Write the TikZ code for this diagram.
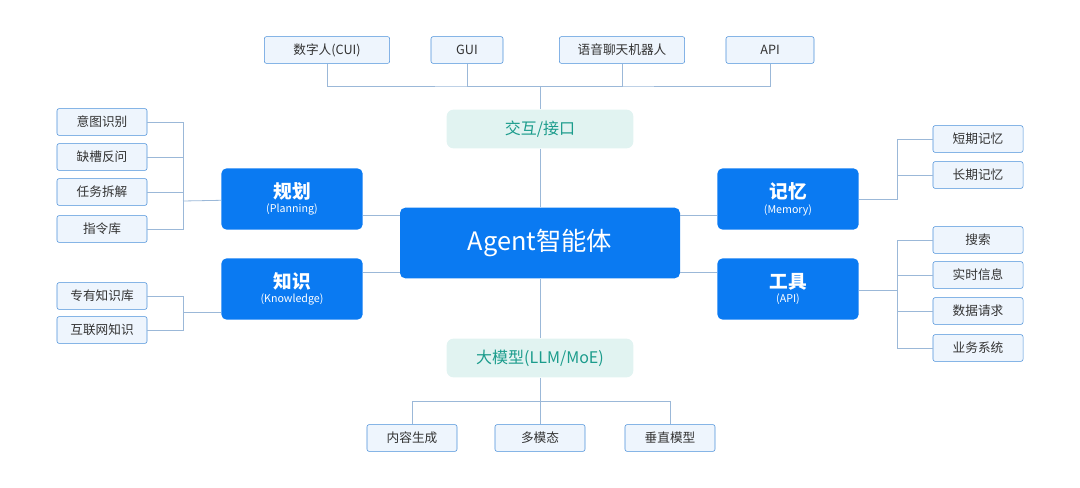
\documentclass[tikz,border=0pt]{standalone}
\usepackage{fontspec}
\setmainfont{Noto Sans CJK SC}
\begin{document}
\begin{tikzpicture}[x=0.75pt,y=-0.75pt]
\definecolor{mainblue}{HTML}{0A7AF2}
\definecolor{leafline}{HTML}{4A8FD9}
\definecolor{leaffill}{HTML}{EEF5FD}
\definecolor{tealfill}{HTML}{E1F3F1}
\definecolor{tealtext}{HTML}{1B9C8C}
\definecolor{wire}{HTML}{9BB8D8}
\tikzstyle{leaf}=[draw=leafline,fill=leaffill,rounded corners=1.5pt,minimum width=67.5pt,minimum height=20pt,font=\fontsize{9.5}{10}\selectfont,text=black!80];
\tikzstyle{hub}=[fill=mainblue,rounded corners=4pt,minimum width=106pt,minimum height=46pt,text=white,align=center];
\tikzstyle{layer}=[fill=tealfill,rounded corners=5pt,minimum width=140pt,minimum height=29pt,text=tealtext,font=\fontsize{12}{13}\selectfont];
\tikzstyle{wire}=[draw=wire,line width=0.6pt];
\useasboundingbox (0,0) rectangle (1080,488);
% center
\node [hub,minimum width=210pt,minimum height=53pt,font=\fontsize{19}{20}\selectfont] (agent) at (540,243) {Agent智能体};
\node [hub] (plan) at (292,199) {{\fontsize{14}{15}\selectfont\bfseries 规划}\\[-1pt]{\fontsize{8}{9}\selectfont (Planning)}};
\node [hub] (know) at (292,289) {{\fontsize{14}{15}\selectfont\bfseries 知识}\\[-1pt]{\fontsize{8}{9}\selectfont (Knowledge)}};
\node [hub] (mem) at (788,199) {{\fontsize{14}{15}\selectfont\bfseries 记忆}\\[-1pt]{\fontsize{8}{9}\selectfont (Memory)}};
\node [hub] (tool) at (788,289) {{\fontsize{14}{15}\selectfont\bfseries 工具}\\[-1pt]{\fontsize{8}{9}\selectfont (API)}};
\node [layer] (ui) at (540,129) {交互/接口};
\node [layer] (llm) at (540,358) {大模型(LLM/MoE)};
\draw [wire] (ui) -- (agent);
\draw [wire] (agent) -- (llm);
\draw [wire] (plan.east |- 0,215) -- (agent.west |- 0,215);
\draw [wire] (know.east |- 0,272) -- (agent.west |- 0,272);
\draw [wire] (mem.west |- 0,215) -- (agent.east |- 0,215);
\draw [wire] (tool.west |- 0,272) -- (agent.east |- 0,272);

% top
\node [leaf,minimum width=94pt] (cui) at (327,50) {数字人(CUI)};
\node [leaf,minimum width=54pt] (gui) at (467,50) {GUI};
\node [leaf,minimum width=94pt] (bot) at (622,50) {语音聊天机器人};
\node [leaf,minimum width=66pt] (api) at (770,50) {API};
\coordinate (tb) at (540,86);
\draw [wire] (cui) |- (tb) -| (api);
\draw [wire] (gui) |- (tb);
\draw [wire] (bot) |- (tb);
\draw [wire] (tb) -- (ui);

% left
\coordinate (pb) at (183,201);
\foreach \t/\y [count=\i] in {意图识别/122,缺槽反问/157,任务拆解/192,指令库/229}
{
\node [leaf] (p\i) at (102,\y) {\t};
\draw [wire] (p\i) -| (pb);
}
\draw [wire] (pb) -- (plan);
\coordinate (kb) at (183,312);
\foreach \t/\y [count=\i] in {专有知识库/296,互联网知识/330}
{
\node [leaf] (k\i) at (102,\y) {\t};
\draw [wire] (k\i) -| (kb);
}
\draw [wire] (kb) -- (know.west |- kb);

% right
\coordinate (mb) at (897,157);
\foreach \t/\y [count=\i] in {短期记忆/139,长期记忆/175}
{
\node [leaf] (m\i) at (978,\y) {\t};
\draw [wire] (m\i) -| (mb);
}
\draw [wire] (mb) |- (mem.east |- 0,199);
\coordinate (ab) at (897,290);
\foreach \t/\y [count=\i] in {搜索/240,实时信息/275,数据请求/311,业务系统/348}
{
\node [leaf] (a\i) at (978,\y) {\t};
\draw [wire] (a\i) -| (ab);
}
\draw [wire] (ab) -- (tool.east |- ab);

% bottom
\coordinate (bb) at (540,401);
\draw [wire] (llm) -- (bb);
\foreach \t/\x [count=\i] in {内容生成/412,多模态/540,垂直模型/670}
{
\node [leaf] (b\i) at (\x,438) {\t};
\draw [wire] (b\i) |- (bb);
}
\end{tikzpicture}
\end{document}
